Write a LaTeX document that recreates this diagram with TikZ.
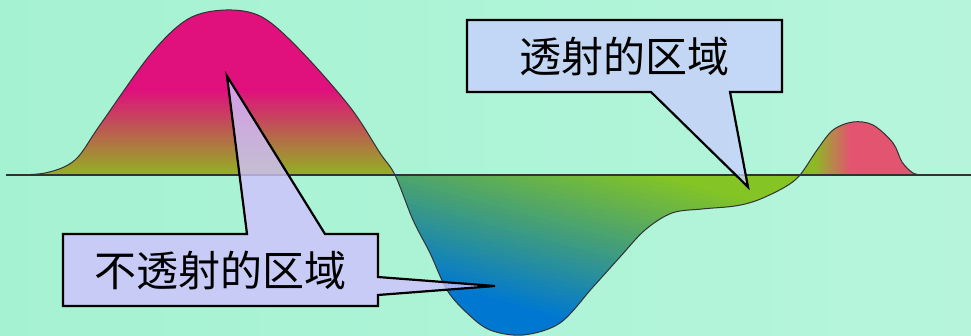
\documentclass[tikz,border=0pt]{standalone}
\usepackage{fontspec}
\newfontfamily\cjk{Noto Sans CJK SC}
\definecolor{bgA}{RGB}{165,242,210}
\definecolor{bgB}{RGB}{182,245,220}
\definecolor{mag}{RGB}{224,16,124}
\definecolor{oliv}{RGB}{145,180,32}
\definecolor{oliv3}{RGB}{140,186,36}
\definecolor{lgreen}{RGB}{132,196,36}
\definecolor{lblue}{RGB}{0,120,210}
\definecolor{pinkr}{RGB}{227,84,112}
\definecolor{boxA}{RGB}{208,194,255}
\definecolor{boxB}{RGB}{200,208,253}
\definecolor{curveC}{RGB}{50,50,50}
\begin{document}
\begin{tikzpicture}[x=1pt,y=-1pt,
  calloutshape/.style={draw=black, line width=2.2pt, fill opacity=0.8},
  calloutText/.style={font=\cjk\fontsize{42}{42}\selectfont, inner sep=0pt, text=black},
  curveline/.style={draw=curveC, line width=1pt},
  axisline/.style={draw=curveC, line width=1.5pt}]
\useasboundingbox (0,0) rectangle (971,336);
\shade[left color=bgA, right color=bgB] (0,0) rectangle (971,336);
% filled lobes
\begin{scope}
  \clip plot[smooth, tension=0.55] coordinates {(6,175) (45,173) (75,160) (100,125) (150,55) (188,19) (226,10) (262,17) (300,50) (350,107) (380,153) (395,175) (413,220) (430,253) (447,290) (467,313) (490,330) (523,335) (560,323) (593,287) (620,257) (645,230) (672,213) (702,209) (735,206) (758,200) (785,187) (800,175) (817,150) (833,130) (853,122) (873,125) (893,143) (902,162) (913,173) (923,175)} -- cycle;
  % lobe 1
  \begin{scope}
    \clip (0,0) rectangle (396,200);
    \fill[mag] (0,0) rectangle (396,92);
    \shade[top color=mag, bottom color=oliv] (0,90) rectangle (396,176);
  \end{scope}
  % lobe 2
  \begin{scope}
    \clip (394,170) rectangle (801,336);
    \begin{scope}[shift={(495,330)}, rotate=-15]
      \fill[lblue] (-500,60) rectangle (500,-28);
      \foreach \i in {0,...,33} {
        \pgfmathsetmacro\p{100*\i/33}
        \fill[lgreen!\p!lblue] (-500,-25-\i*5) rectangle (500,-25-\i*5-5.8);
      }
      \fill[lgreen] (-500,-192) rectangle (500,-400);
    \end{scope}
  \end{scope}
  % lobe 3
  \begin{scope}
    \clip (799,100) rectangle (971,180);
    \fill[oliv3] (799,100) rectangle (815,180);
    \shade[left color=oliv3, right color=pinkr] (814,100) rectangle (850,180);
    \fill[pinkr] (849,100) rectangle (960,180);
  \end{scope}
\end{scope}
\draw[curveline] plot[smooth, tension=0.55] coordinates {(6,175) (45,173) (75,160) (100,125) (150,55) (188,19) (226,10) (262,17) (300,50) (350,107) (380,153) (395,175) (413,220) (430,253) (447,290) (467,313) (490,330) (523,335) (560,323) (593,287) (620,257) (645,230) (672,213) (702,209) (735,206) (758,200) (785,187) (800,175) (817,150) (833,130) (853,122) (873,125) (893,143) (902,162) (913,173) (923,175)};
\coordinate (axL) at (6,175);
\coordinate (axR) at (971,175);
\draw[axisline] (axL) -- (axR);
% callouts
\coordinate (p1) at (227,76);
\coordinate (p2) at (495,286);
\coordinate (p3) at (748,187);
\path[calloutshape, fill=boxA] (63,234) -- (247,234) -- (p1) -- (325,234) -- (378,234) -- (378,277) -- (p2) -- (378,295) -- (378,306) -- (63,306) -- cycle;
\path[calloutshape, fill=boxB] (467,20) -- (782,20) -- (782,92) -- (730,92) -- (p3) -- (651,92) -- (467,92) -- cycle;
\node[calloutText] (t1) at (220,270) {不透射的区域};
\node[calloutText] (t2) at (624,56) {透射的区域};
\end{tikzpicture}
\end{document}
